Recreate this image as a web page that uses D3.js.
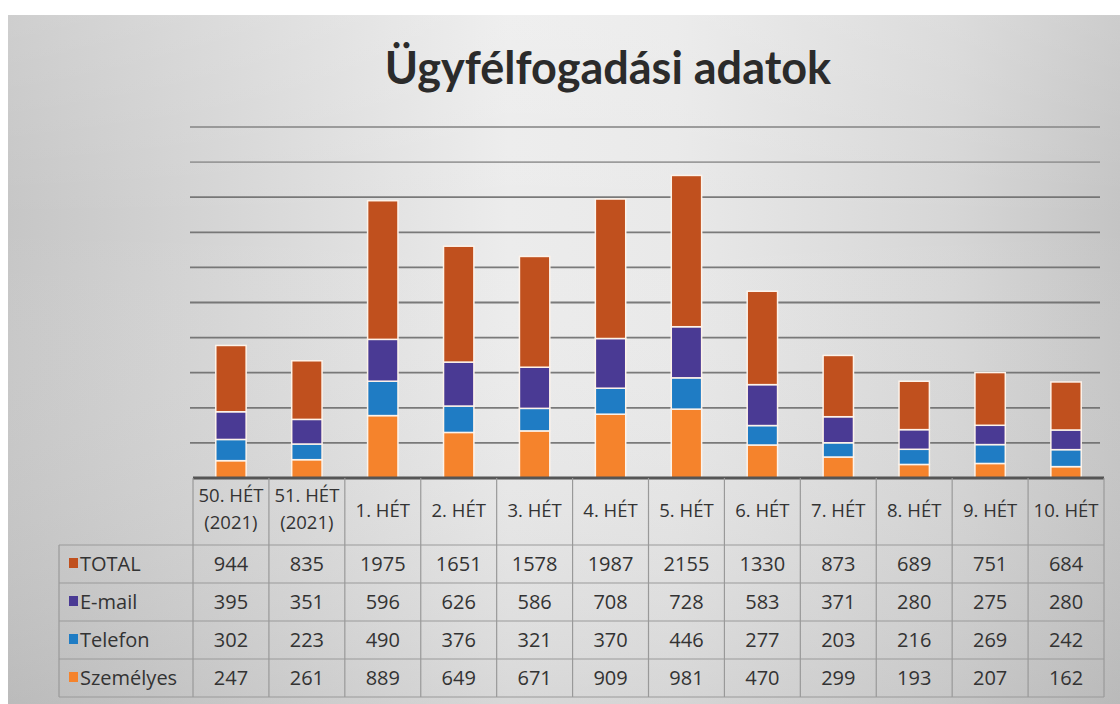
<!DOCTYPE html>
<html>
<head>
<meta charset="utf-8">
<script src="https://cdn.jsdelivr.net/npm/d3@7"></script>
<style>
  html, body { margin: 0; padding: 0; background: #fff; }
  svg { display: block; }
</style>
</head>
<body>
<div id="chart"></div>
<script>
const weeks = ["50. HÉT|(2021)", "51. HÉT|(2021)", "1. HÉT", "2. HÉT", "3. HÉT", "4. HÉT",
               "5. HÉT", "6. HÉT", "7. HÉT", "8. HÉT", "9. HÉT", "10. HÉT"];
const total     = [944, 835, 1975, 1651, 1578, 1987, 2155, 1330, 873, 689, 751, 684];
const email     = [395, 351, 596, 626, 586, 708, 728, 583, 371, 280, 275, 280];
const telefon   = [302, 223, 490, 376, 321, 370, 446, 277, 203, 216, 269, 242];
const szemelyes = [247, 261, 889, 649, 671, 909, 981, 470, 299, 193, 207, 162];
const yTicks = [0, 500, 1000, 1500, 2000, 2500, 3000, 3500, 4000, 4500, 5000];

const width = 1120, height = 704;
const plotLeft = 193, plotRight = 1104, base = 478, plotTop = 127;

const series = [
  {key: "TOTAL", values: total, color: "#c0501e"},
  {key: "E-mail", values: email, color: "#4a3a94"},
  {key: "Telefon", values: telefon, color: "#1f7cc4"},
  {key: "Személyes", values: szemelyes, color: "#f5832c"}
];
const color = d3.scaleOrdinal(series.map(s => s.key), series.map(s => s.color));

const rows = weeks.map((w, i) => {
  const r = {week: w};
  series.forEach(s => r[s.key] = s.values[i]);
  return r;
});

const svg = d3.select("#chart").append("svg")
    .attr("width", width)
    .attr("height", height);

// photo-like background
const defs = svg.append("defs");
const g1 = defs.append("linearGradient").attr("id", "bgx");
[[0, "#c6c6c6"], [0.2, "#d6d6d6"], [0.45, "#ececec"], [0.6, "#e9e9e9"], [0.85, "#d6d6d6"], [1, "#c4c4c4"]]
  .forEach(([o, c]) => g1.append("stop").attr("offset", o).attr("stop-color", c));
const g2 = defs.append("linearGradient").attr("id", "bgy").attr("x2", 0).attr("y2", 1);
[[0, "#ffffff", 0.15], [0.3, "#ffffff", 0], [1, "#9a9a9a", 0.25]]
  .forEach(([o, c, a]) => g2.append("stop").attr("offset", o).attr("stop-color", c).attr("stop-opacity", a));

svg.append("rect").attr("width", width).attr("height", height).attr("fill", "#ffffff");
svg.append("rect").attr("x", 8).attr("y", 15).attr("width", width - 8).attr("height", height - 15).attr("fill", "url(#bgx)");
svg.append("rect").attr("x", 8).attr("y", 15).attr("width", width - 8).attr("height", height - 15).attr("fill", "url(#bgy)");

svg.append("text")
    .attr("x", 608).attr("y", 84)
    .attr("text-anchor", "middle")
    .style("font", "bold 45px Lato, 'Open Sans', sans-serif")
    .attr("fill", "#2b2b2b")
    .text("Ügyfélfogadási adatok");

const y = d3.scaleLinear().domain([0, 5000]).range([base, plotTop]);
const x = d3.scaleBand().domain(weeks).range([plotLeft, plotRight]).paddingInner(0.6).paddingOuter(0.3);
const col = d3.scaleBand().domain(weeks).range([plotLeft, plotRight]);

// gridlines
svg.append("g").selectAll("line")
  .data(yTicks.slice(1))
  .join("line")
    .attr("x1", plotLeft - 3).attr("x2", plotRight - 4)
    .attr("y1", d => y(d)).attr("y2", d => y(d))
    .attr("stroke", (d, i) => i > 7 ? "#8e8e8e" : "#666")
    .attr("stroke-opacity", 0.85)
    .attr("stroke-width", 1.8);

// stacked bars
const stack = d3.stack().keys(["Személyes", "Telefon", "E-mail", "TOTAL"]);
svg.append("g").selectAll("g")
  .data(stack(rows))
  .join("g")
    .attr("fill", d => color(d.key))
  .selectAll("rect")
  .data(d => d)
  .join("rect")
    .attr("x", d => x(d.data.week))
    .attr("width", x.bandwidth())
    .attr("y", d => y(d[1]))
    .attr("height", d => y(d[0]) - y(d[1]))
    .attr("stroke", "#fdf3ea")
    .attr("stroke-width", 1.5);

// baseline
svg.append("line")
    .attr("x1", plotLeft).attr("x2", plotRight)
    .attr("y1", base).attr("y2", base)
    .attr("stroke", "#555").attr("stroke-width", 3);

// data table
const headH = 67, rowH = 38, legLeft = 59;
const tbl = svg.append("g")
    .style("font", "20px 'Open Sans', 'Noto Sans', sans-serif")
    .attr("fill", "#333");
const gridC = "#999";

// vertical borders
tbl.selectAll("line.v")
  .data(weeks.map(w => col(w)).concat([plotRight]))
  .join("line")
    .attr("x1", d => d).attr("x2", d => d)
    .attr("y1", base).attr("y2", base + headH + rowH * 4)
    .attr("stroke", gridC).attr("stroke-width", 1.2);
tbl.append("line")
    .attr("x1", legLeft).attr("x2", legLeft)
    .attr("y1", base + headH).attr("y2", base + headH + rowH * 4)
    .attr("stroke", gridC).attr("stroke-width", 1.2);
// horizontal borders
tbl.selectAll("line.h")
  .data(d3.range(5))
  .join("line")
    .attr("x1", legLeft).attr("x2", plotRight)
    .attr("y1", i => base + headH + i * rowH).attr("y2", i => base + headH + i * rowH)
    .attr("stroke", gridC).attr("stroke-width", 1.2);

// header
tbl.selectAll("text.head")
  .data(weeks)
  .join("text")
    .attr("text-anchor", "middle")
    .attr("x", d => col(d) + col.bandwidth() / 2)
  .each(function(d) {
    const parts = d.split("|");
    const t = d3.select(this);
    parts.forEach((p, i) => {
      t.append("tspan")
        .attr("x", col(d) + col.bandwidth() / 2)
        .attr("y", parts.length > 1 ? base + 24 + i * 27 : base + 39)
        .text(p);
    });
  })
  .style("font-size", "18.5px");

// rows
series.forEach((s, r) => {
  const cy = base + headH + r * rowH + rowH / 2 + 7;
  tbl.append("rect")
      .attr("x", 69).attr("y", cy - 13).attr("width", 9).attr("height", 10)
      .attr("fill", s.color);
  tbl.append("text")
      .attr("x", 80).attr("y", cy)
      .text(s.key);
  tbl.selectAll(null)
    .data(s.values)
    .join("text")
      .attr("text-anchor", "middle")
      .attr("x", (d, i) => col(weeks[i]) + col.bandwidth() / 2)
      .attr("y", cy)
      .text(d => d);
});
</script>
</body>
</html>
